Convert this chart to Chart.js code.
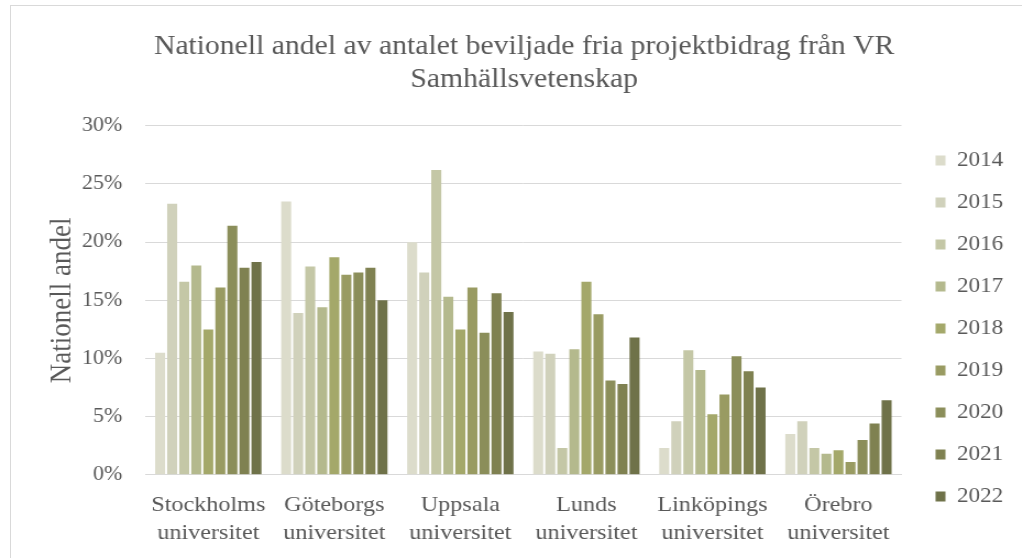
<!DOCTYPE html>
<html>
<head>
<meta charset="utf-8">
<script src="https://cdn.jsdelivr.net/npm/chart.js"></script>
<style>
  body { margin: 0; background: #fff; overflow: hidden; }
  #frame { position: absolute; left: 10px; top: 5px; width: 1100px; height: 600px; border: 1px solid #d9d9d9; }
  /* originalet är något utdraget på bredden */
  #wrap { position: absolute; left: 0; top: 0; width: 929px; height: 558px; transform: scaleX(1.1); transform-origin: 0 0; }
</style>
</head>
<body>
<div id="frame"></div>
<div id="wrap"><canvas id="chart"></canvas></div>
<script>
// lärosäten
var universities = [
    ['Stockholms', 'universitet'],
    ['Göteborgs', 'universitet'],
    ['Uppsala', 'universitet'],
    ['Lunds', 'universitet'],
    ['Linköpings', 'universitet'],
    ['Örebro', 'universitet']
];
var years = ['2014', '2015', '2016', '2017', '2018', '2019', '2020', '2021', '2022'];

// nationell andel i procent, per år
var y2014 = [10.5, 23.5, 20.0, 10.6, 2.3, 3.5];
var y2015 = [23.3, 13.9, 17.4, 10.4, 4.6, 4.6];
var y2016 = [16.6, 17.9, 26.2, 2.3, 10.7, 2.3];
var y2017 = [18.0, 14.4, 15.3, 10.8, 9.0, 1.8];
var y2018 = [12.5, 18.7, 12.5, 16.6, 5.2, 2.1];
var y2019 = [16.1, 17.2, 16.1, 13.8, 6.9, 1.1];
var y2020 = [21.4, 17.4, 12.2, 8.1, 10.2, 3.0];
var y2021 = [17.8, 17.8, 15.6, 7.8, 8.9, 4.4];
var y2022 = [18.3, 15.0, 14.0, 11.8, 7.5, 6.4];

var yearValues = [y2014, y2015, y2016, y2017, y2018, y2019, y2020, y2021, y2022];
var colors = ['#dcdccb', '#d0d1bb', '#c4c7a6', '#b4b98d', '#a4a86a', '#999b62', '#8b8e5a', '#7f8151', '#6f7249'];

var yTicks = [0, 5, 10, 15, 20, 25, 30];

var datasets = [];
for (var i = 0; i < years.length; i++) {
    datasets.push({
        label: years[i],
        data: yearValues[i],
        backgroundColor: colors[i],
        categoryPercentage: 0.86,
        barPercentage: 0.83
    });
}

var textColor = '#595959';
var fontFamily = '"Liberation Serif", "Times New Roman", serif';

// flyttar förklaringen lite, som i originalet
var legendOffset = {
    id: 'legendOffset',
    afterLayout: function(chart) {
        var lg = chart.legend;
        lg.left += 10; lg.right += 10;
        lg.top += 40; lg.bottom += 40;
    }
};

var ctx = document.getElementById('chart').getContext('2d');
var chart = new Chart(ctx, {
    type: 'bar',
    data: {
        labels: universities,
        datasets: datasets
    },
    plugins: [legendOffset],
    options: {
        responsive: true,
        maintainAspectRatio: false,
        animation: false,
        layout: {
            padding: { top: 21, left: 41, right: 17, bottom: 2 }
        },
        plugins: {
            title: {
                display: true,
                text: ['Nationell andel av antalet beviljade fria projektbidrag från VR', 'Samhällsvetenskap'],
                color: textColor,
                font: { family: fontFamily, size: 27, weight: 'normal', lineHeight: 1.2 },
                padding: { top: 10, bottom: 30 }
            },
            legend: {
                position: 'right',
                labels: {
                    color: textColor,
                    font: { family: fontFamily, size: 21 },
                    boxWidth: 9,
                    boxHeight: 10,
                    padding: 21
                }
            },
            tooltip: { enabled: false }
        },
        scales: {
            x: {
                grid: { display: false },
                border: { color: '#d9d9d9', width: 1 },
                ticks: {
                    color: textColor,
                    font: { family: fontFamily, size: 22, lineHeight: 1.3 },
                    maxRotation: 0,
                    padding: 8
                }
            },
            y: {
                min: 0,
                max: 30,
                afterBuildTicks: function(axis) {
                    axis.ticks = yTicks.map(function(v) { return { value: v }; });
                },
                grid: { color: '#d9d9d9', lineWidth: 1, drawTicks: false },
                border: { display: false },
                ticks: {
                    color: textColor,
                    font: { family: fontFamily, size: 20 },
                    padding: 21,
                    callback: function(v) { return v + '%'; }
                },
                title: {
                    display: true,
                    text: 'Nationell andel',
                    color: textColor,
                    font: { family: fontFamily, size: 27, lineHeight: 1.2 },
                    // tickavståndet räknas dubbelt i axelns bredd
                    padding: { top: 0, bottom: -20 }
                }
            }
        }
    }
});
</script>
</body>
</html>
